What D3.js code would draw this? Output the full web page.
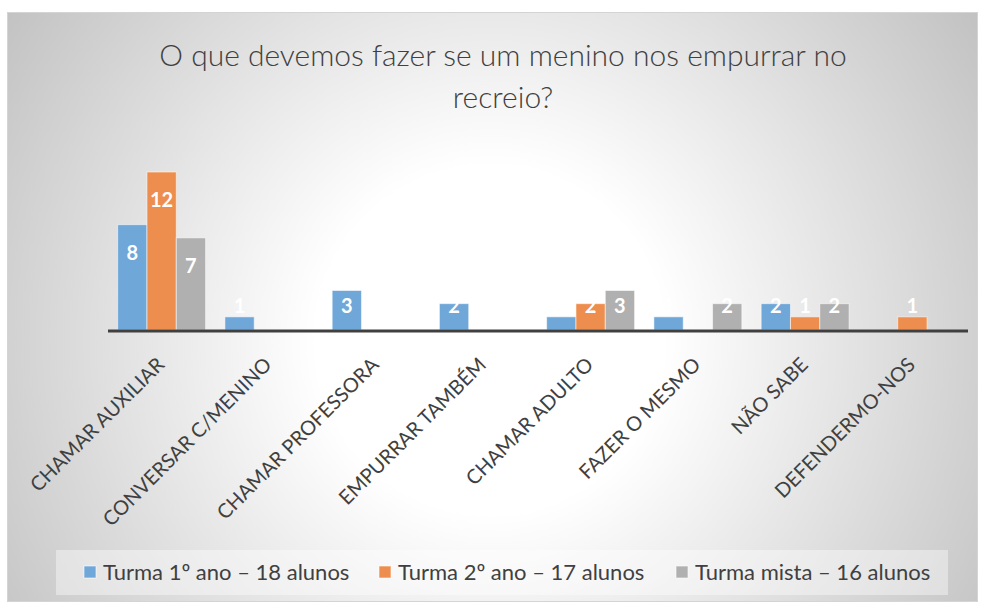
<!DOCTYPE html>
<html>
<head>
<meta charset="utf-8">
<script src="https://cdn.jsdelivr.net/npm/d3@7"></script>
<style>
  body { margin: 0; background: #fff; }
  svg text { font-family: Lato, 'Open Sans', sans-serif; }
</style>
</head>
<body>
<div id="chart"></div>
<script>
const categories = ['CHAMAR AUXILIAR', 'CONVERSAR C/MENINO', 'CHAMAR PROFESSORA', 'EMPURRAR TAMBÉM',
  'CHAMAR ADULTO', 'FAZER O MESMO', 'NÃO SABE', 'DEFENDERMO-NOS'];
const seriesNames = ['Turma 1º ano – 18 alunos', 'Turma 2º ano – 17 alunos', 'Turma mista – 16 alunos'];
const turma1 = [8, 1, 3, 2, 1, 1, 2, 0];
const turma2 = [12, 0, 0, 0, 2, 0, 1, 1];
const mista = [7, 0, 0, 0, 3, 2, 2, 0];
const colors = ['#6fa7d9', '#ee8e4e', '#b0b0b0'];
const titleLines = ['O que devemos fazer se um menino nos empurrar no', 'recreio?'];

const W = 983;
const H = 605;
const margin = { top: 172, right: 15, bottom: 275, left: 108 };
const series = [turma1, turma2, mista];

const svg = d3.select('#chart').append('svg')
  .attr('width', W)
  .attr('height', H);

// background gradient like the office chart style
const grad = svg.append('defs').append('radialGradient')
  .attr('id', 'bg')
  .attr('gradientUnits', 'userSpaceOnUse')
  .attr('cx', 490).attr('cy', 340).attr('r', 620);
grad.append('stop').attr('offset', '0%').attr('stop-color', '#ffffff');
grad.append('stop').attr('offset', '28%').attr('stop-color', '#ffffff');
grad.append('stop').attr('offset', '100%').attr('stop-color', '#bdbdbd');

svg.append('rect')
  .attr('x', 7.5).attr('y', 12.5)
  .attr('width', 970).attr('height', 589)
  .attr('fill', 'url(#bg)')
  .attr('stroke', '#d4d4d4');

// title
svg.append('g').selectAll('text')
  .data(titleLines)
  .join('text')
  .attr('x', 503)
  .attr('y', (d, i) => 66 + i * 42)
  .attr('text-anchor', 'middle')
  .attr('font-size', 30)
  .attr('font-weight', 300)
  .attr('fill', '#404040')
  .text(d => d);

const width = W - margin.left - margin.right - 2;
const height = 330 - margin.top;

const x0 = d3.scaleBand()
  .domain(categories)
  .range([0, width])
  .paddingInner(0.18)
  .paddingOuter(0.09);

const x1 = d3.scaleBand()
  .domain(d3.range(series.length))
  .range([0, x0.bandwidth()]);

const y = d3.scaleLinear()
  .domain([0, 12])
  .range([height, 0]);

const g = svg.append('g')
  .attr('transform', `translate(${margin.left}, ${margin.top})`);

const rows = categories.map((c, i) => ({ category: c, values: series.map(s => s[i]) }));

const group = g.selectAll('.group')
  .data(rows)
  .join('g')
  .attr('class', 'group')
  .attr('transform', d => `translate(${x0(d.category)}, 0)`);

const cells = group.selectAll('.cell')
  .data(d => d.values.map((v, k) => ({ v, k })).filter(e => e.v > 0))
  .join('g')
  .attr('class', 'cell');

cells.append('rect')
  .attr('x', d => x1(d.k))
  .attr('y', d => y(d.v))
  .attr('width', x1.bandwidth())
  .attr('height', d => y(0) - y(d.v))
  .attr('fill', d => colors[d.k])
  .attr('stroke', 'rgba(255,255,255,0.55)')
  .attr('stroke-width', 1);

// labels: inside end, white, clipped visually by the white background
cells.append('text')
  .attr('x', d => x1(d.k) + x1.bandwidth() / 2)
  .attr('y', d => Math.min(y(d.v) + 28, y(0) - 24))
  .attr('dy', '0.36em')
  .attr('text-anchor', 'middle')
  .attr('font-size', 20)
  .attr('font-weight', 'bold')
  .attr('fill', '#ffffff')
  .text(d => d.v);

// axis line
g.append('line')
  .attr('x1', 0)
  .attr('x2', width + 2)
  .attr('y1', y(0) + 1)
  .attr('y2', y(0) + 1)
  .attr('stroke', '#404040')
  .attr('stroke-width', 3);

// category labels, rotated
g.append('g').selectAll('text')
  .data(categories)
  .join('text')
  .attr('transform', d => `translate(${x0(d) + x0.bandwidth() / 2 + 4}, ${y(0) + 36}) rotate(-45)`)
  .attr('text-anchor', 'end')
  .attr('font-size', 20)
  .attr('fill', '#404040')
  .text(d => d);

// legend
svg.append('rect')
  .attr('x', 56).attr('y', 550)
  .attr('width', 892).attr('height', 45)
  .attr('fill', 'rgba(255,255,255,0.4)');

const legendX = [84, 379, 676];
const legend = svg.append('g').selectAll('g')
  .data(seriesNames)
  .join('g')
  .attr('transform', (d, i) => `translate(${legendX[i]}, 572)`);

legend.append('rect')
  .attr('x', 0).attr('y', -6)
  .attr('width', 12).attr('height', 12)
  .attr('fill', (d, i) => colors[i])
  .attr('stroke', 'rgba(255,255,255,0.6)');

legend.append('text')
  .attr('x', 19)
  .attr('dy', '0.35em')
  .attr('font-size', 22)
  .attr('fill', '#404040')
  .text(d => d);
</script>
</body>
</html>
